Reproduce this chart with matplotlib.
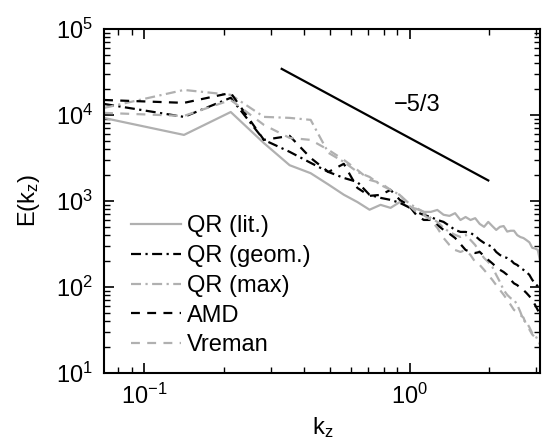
import numpy as np
import matplotlib
matplotlib.use("Agg")
import matplotlib.pyplot as plt

plt.rcParams['font.family'] = ['Liberation Sans', 'DejaVu Sans']
plt.rcParams['mathtext.fontset'] = 'custom'
plt.rcParams['mathtext.rm'] = 'Liberation Sans'
plt.rcParams['mathtext.it'] = 'Liberation Sans'
plt.rcParams['mathtext.default'] = 'regular'

# wavenumbers k_z = n * dk, n = 1..44
dk = 0.0707
kz = dk * np.arange(1, 45)

qr_lit = [9200, 5850, 10800, 4700, 2600, 2100, 1550, 1180, 970, 790,
          900, 830, 970, 850, 810, 745, 745, 785, 690, 670,
          720, 600, 650, 600, 630, 540, 500, 570, 510, 460,
          500, 510, 440, 450, 450, 400, 380, 370, 350, 330,
          285, 280, 270, 195]
qr_geom = [13400, 9480, 15800, 5120, 3720, 2770, 2170, 1850, 1660, 1175,
           1085, 1028, 950, 850, 745, 687, 651, 601, 570, 512,
           460, 436, 436, 425, 392, 352, 325, 307, 292, 255,
           235, 223, 217, 206, 188, 180, 166, 158, 149, 138,
           121, 110, 102, 92]
qr_max = [12060, 19500, 17100, 9480, 9230, 8750, 3620, 2840, 2170, 1900,
          1535, 1343, 1175, 950, 829, 745, 634, 570, 486, 436,
          403, 381, 403, 352, 307, 255, 217, 195, 171, 138,
          114, 92, 81, 74, 71, 62, 51, 41, 39, 34,
          29, 28, 24, 21]
amd = [14900, 13800, 18000, 5120, 5700, 3160, 2170, 2700, 1415, 1145,
       1175, 1343, 1028, 898, 687, 601, 601, 526, 460, 415,
       371, 315, 269, 255, 248, 255, 229, 206, 188, 171,
       158, 149, 138, 121, 110, 105, 97, 92, 85, 78,
       71, 62, 54, 47]
vreman = [10550, 9730, 14900, 7650, 5400, 5120, 3920, 3000, 2290, 1755,
          1620, 1343, 1175, 898, 745, 687, 601, 486, 371, 307,
          269, 255, 269, 235, 195, 180, 158, 138, 121, 105,
          92, 81, 71, 62, 54, 51, 47, 44, 36, 32,
          28, 26, 24, 23]

# -5/3 reference slope
slope_k = np.array([0.33, 1.98])
slope_c = 5400

gray = '#b0b0b0'
lw = 1.6
fs = 17
dashdot = (4.5, 2, 1, 2)
dash = (4, 3.3)

fig = plt.figure(figsize=(5.42, 4.44), dpi=100)
ax = fig.add_axes([0.192, 0.16, 0.805, 0.775])

ax.plot(kz, qr_lit, color=gray, lw=lw, ls='-', label='QR (lit.)')
ax.plot(kz, qr_geom, color='black', lw=lw, dashes=dashdot, label='QR (geom.)')
ax.plot(kz, qr_max, color=gray, lw=lw, dashes=dashdot, label='QR (max)')
ax.plot(kz, amd, color='black', lw=lw, dashes=dash, label='AMD')
ax.plot(kz, vreman, color=gray, lw=lw, dashes=dash, label='Vreman')

ax.plot(slope_k, slope_c * slope_k ** (-5 / 3), color='black', lw=1.6)
ax.text(1.07, 13000, '\u22125/3', fontsize=fs, ha='center', va='center')

ax.set_xscale('log')
ax.set_yscale('log')
ax.set_xlim(kz[0], kz[-1])
ax.set_ylim(1e1, 1e5)

ax.set_xlabel('k$_z$', fontsize=fs, labelpad=4)
ax.set_ylabel('E(k$_z$)', fontsize=fs, labelpad=10)

ax.tick_params(which='both', direction='in', top=True, right=True, labelsize=fs)
ax.tick_params(which='major', length=7, width=1.2, pad=8)
ax.tick_params(which='minor', length=4, width=1.0)
for s in ax.spines.values():
    s.set_linewidth(1.5)

leg = ax.legend(loc='lower left', frameon=False, fontsize=fs, handlelength=2.1,
                handletextpad=0.25, labelspacing=0.33, borderaxespad=0.3,
                bbox_to_anchor=(0.025, 0.0))

fig.savefig('out.png', dpi=100)
